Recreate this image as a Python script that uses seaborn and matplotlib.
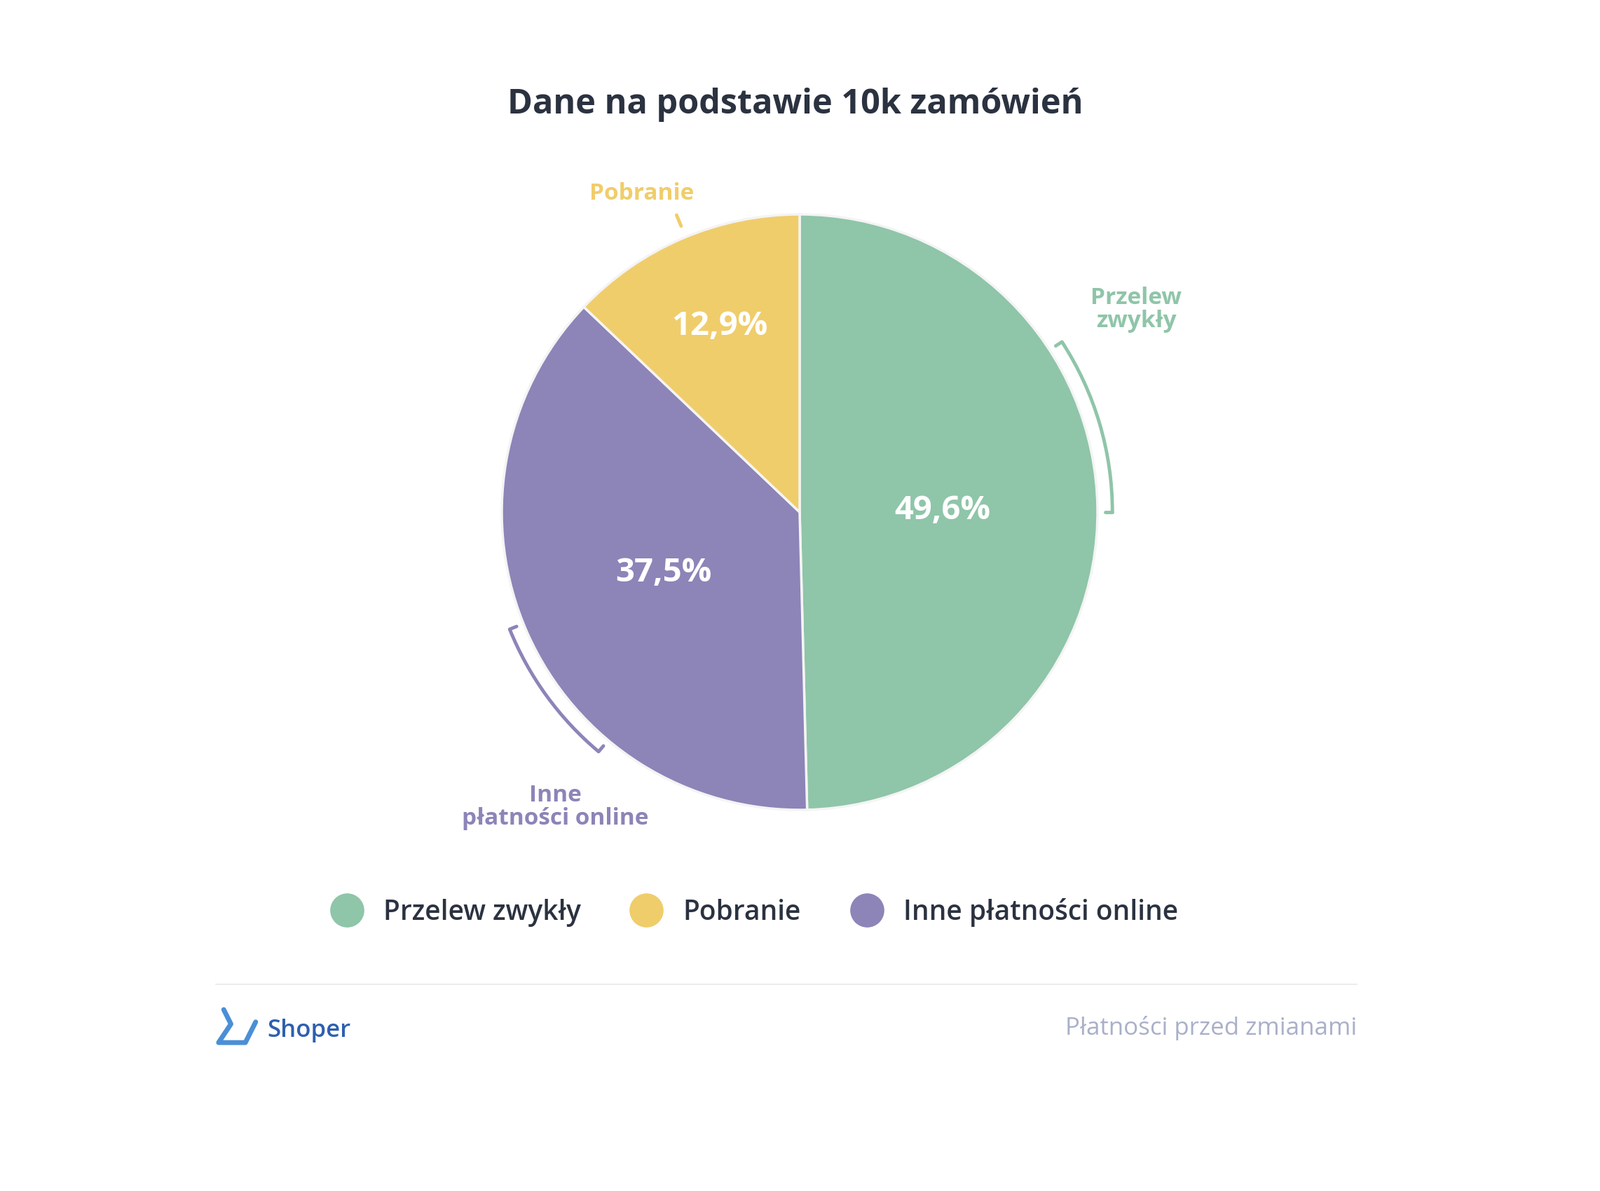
import numpy as np
import matplotlib
matplotlib.use("Agg")
import matplotlib.pyplot as plt
import seaborn as sns
from matplotlib.patches import Arc
from matplotlib.lines import Line2D

categories = ["Przelew zwykły", "Inne płatności online", "Pobranie"]
values = [49.6, 37.5, 12.9]
legend_order = ["Przelew zwykły", "Pobranie", "Inne płatności online"]
outer_labels = ["Przelew\nzwykły", "Inne\npłatności online", "Pobranie"]
colors = {"Przelew zwykły": "#8fc5a9", "Pobranie": "#f0cd6b", "Inne płatności online": "#8d84b8"}
title = "Dane na podstawie 10k zamówień"
footer = "Płatności przed zmianami"

sns.set_theme(style="white", font="Open Sans")
W, H = 2283, 1700
fig = plt.figure(figsize=(W / 100, H / 100), dpi=100)
fig.patch.set_facecolor("white")

R_PX, S = 425, 650
cx, cy = 1141, 969
ax = fig.add_axes([(cx - S) / W, (cy - S) / H, 2 * S / W, 2 * S / H])
ax.axis("off")

pal = [colors[c] for c in categories]
wedges, _, autotexts = ax.pie(values, colors=pal, startangle=90, counterclock=False,
                              autopct=lambda p: f"{p:.1f}%".replace(".", ","), pctdistance=0.55,
                              wedgeprops=dict(edgecolor="#f4f4f4", linewidth=2.5),
                              textprops=dict(color="white", fontsize=34, fontweight="bold"))
lim = S / R_PX
ax.set_xlim(-lim, lim); ax.set_ylim(-lim, lim); ax.set_aspect("equal")
pct_r = [0.48, 0.50, 0.68]
for w, t, r in zip(wedges, autotexts, pct_r):
    a = np.deg2rad((w.theta1 + w.theta2) / 2)
    t.set_position((r * np.cos(a), r * np.sin(a)))

lab_pos = [(1.13, 0.68), (-0.82, -0.99), (-0.53, 1.07)]
for w, lab, pos, c in zip(wedges, outer_labels, lab_pos, categories):
    ax.text(pos[0], pos[1], lab, ha="center", va="center", color=colors[c],
            fontsize=24, fontweight="bold", linespacing=1.0)

rb = 1.05
ax.add_patch(Arc((0, 0), 2 * rb, 2 * rb, theta1=0, theta2=33, color=colors["Przelew zwykły"], lw=3.5))
ax.add_patch(Arc((0, 0), 2 * rb, 2 * rb, theta1=202, theta2=230, color=colors["Inne płatności online"], lw=3.5))
for ang, c in [(0, "Przelew zwykły"), (33, "Przelew zwykły"), (202, "Inne płatności online"),
               (230, "Inne płatności online")]:
    a = np.deg2rad(ang)
    ax.plot([1.025 * np.cos(a), rb * np.cos(a)], [1.025 * np.sin(a), rb * np.sin(a)], color=colors[c], lw=3.5)
a = np.deg2rad(112.5)
ax.plot([1.04 * np.cos(a), 1.08 * np.cos(a)], [1.04 * np.sin(a), 1.08 * np.sin(a)], color=colors["Pobranie"], lw=3.5)

fig.text(0.497, 0.912, title, ha="center", va="center", fontsize=35, fontweight="bold", color="#2b3240")

handles = [Line2D([], [], marker="o", ls="", markersize=34, markerfacecolor=colors[c],
                  markeredgecolor=colors[c]) for c in legend_order]
fig.legend(handles, legend_order, loc="center", bbox_to_anchor=(0.468, 0.234), ncol=3, frameon=False,
           prop=dict(size=28, weight="semibold"), labelcolor="#2b3240", handletextpad=0.35, columnspacing=1.4)

fig.add_artist(Line2D([0.135, 0.848], [0.1735, 0.1735], color="#ececec", lw=1.5))
lx = np.array([217, 224, 212, 238, 248]) / 1552
ly = 1 - np.array([986, 1000, 1018, 1018, 998]) / 1155 + 0.006
fig.add_artist(Line2D(lx, ly, color="#4a8fd6", lw=5, solid_joinstyle="round", solid_capstyle="round"))
fig.text(0.167, 0.135, "Shoper", ha="left", va="center", fontsize=25, fontweight="semibold", color="#2d5fb0")
fig.text(0.848, 0.137, footer, ha="right", va="center", fontsize=25, color="#aab0c8")

fig.savefig("out.png", dpi=100, facecolor="white")
